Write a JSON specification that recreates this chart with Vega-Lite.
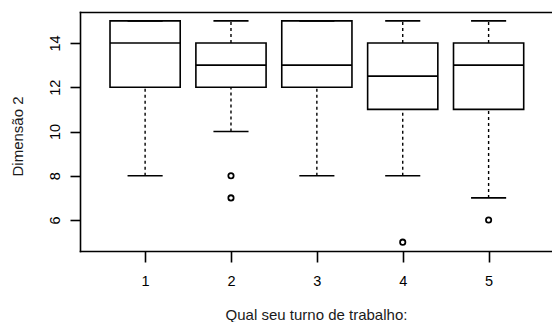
{
  "$schema": "https://vega.github.io/schema/vega-lite/v6.json",
  "width": 472,
  "height": 239,
  "autosize": {"type": "none"},
  "padding": {"left": 80, "top": 12, "right": 0, "bottom": 71},
  "background": "white",
  "config": {
    "view": {"stroke": null},
    "axis": {
      "grid": false,
      "domainColor": "#000",
      "domainWidth": 1.6,
      "domainCap": "square",
      "tickColor": "#000",
      "tickWidth": 1.6,
      "labelFont": "Liberation Sans",
      "labelFontSize": 14.5,
      "labelColor": "#000",
      "titleFont": "Liberation Sans",
      "titleFontSize": 15,
      "titleFontWeight": "normal",
      "titleColor": "#1a1a1a"
    }
  },
  "datasets": {
    "boxes": [
      {"turno": 1, "lo": 8, "q1": 12, "med": 14, "q3": 15, "hi": 15},
      {"turno": 2, "lo": 10, "q1": 12, "med": 13, "q3": 14, "hi": 15},
      {"turno": 3, "lo": 8, "q1": 12, "med": 13, "q3": 15, "hi": 15},
      {"turno": 4, "lo": 8, "q1": 11, "med": 12.5, "q3": 14, "hi": 15},
      {"turno": 5, "lo": 7, "q1": 11, "med": 13, "q3": 14, "hi": 15}
    ],
    "outliers": [
      {"turno": 2, "valor": 8},
      {"turno": 2, "valor": 7},
      {"turno": 4, "valor": 5},
      {"turno": 5, "valor": 6}
    ]
  },
  "resolve": {"axis": {"x": "independent", "y": "independent"}},
  "layer": [
    {
      "data": {"name": "boxes"},
      "mark": {"type": "bar", "width": 70.2, "fill": "white", "stroke": "#000", "strokeWidth": 1.6},
      "encoding": {
        "x": {
          "field": "turno", "type": "quantitative",
          "scale": {"domain": [0.3, 5.68], "nice": false, "zero": false},
          "axis": {
            "orient": "bottom", "values": [1, 2, 3, 4, 5], "format": "d",
            "tickSize": 11, "labelPadding": 23.5, "labelBaseline": "alphabetic",
            "labelAngle": 0, "labelFlush": false,
            "title": "Qual seu turno de trabalho:", "titleY": 68,
            "titleBaseline": "alphabetic"
          }
        },
        "y": {
          "field": "q1", "type": "quantitative",
          "scale": {"domain": [4.6, 15.4], "nice": false, "zero": false},
          "axis": {
            "orient": "left", "values": [6, 8, 10, 12, 14],
            "tickSize": 10, "labelPadding": 11, "labelAngle": 270,
            "labelAlign": "center", "labelBaseline": "alphabetic", "labelFlush": false,
            "title": "Dimensão 2", "titleAngle": 270, "titleX": -57.5, "titleY": 124,
            "titleAlign": "center", "titleBaseline": "alphabetic"
          }
        },
        "y2": {"field": "q3"}
      }
    },
    {
      "data": {"name": "boxes"},
      "mark": {"type": "tick", "orient": "horizontal", "size": 70.2, "thickness": 1.7, "color": "#000", "opacity": 1},
      "encoding": {
        "x": {
          "field": "turno", "type": "quantitative",
          "scale": {"domain": [0.3, 5.68], "nice": false, "zero": false},
          "axis": {"orient": "top", "labels": false, "ticks": false, "title": null, "domain": true}
        },
        "y": {
          "field": "med", "type": "quantitative",
          "scale": {"domain": [4.6, 15.4], "nice": false, "zero": false},
          "axis": null
        }
      }
    },
    {
      "data": {"name": "boxes"},
      "mark": {"type": "rule", "strokeDash": [3, 3], "strokeWidth": 1.4, "color": "#000"},
      "encoding": {
        "x": {"field": "turno", "type": "quantitative", "scale": {"domain": [0.3, 5.68], "nice": false, "zero": false}, "axis": null},
        "y": {"field": "q3", "type": "quantitative", "scale": {"domain": [4.6, 15.4], "nice": false, "zero": false}, "axis": null},
        "y2": {"field": "hi"}
      }
    },
    {
      "data": {"name": "boxes"},
      "mark": {"type": "rule", "strokeDash": [3, 3], "strokeWidth": 1.4, "color": "#000"},
      "encoding": {
        "x": {"field": "turno", "type": "quantitative", "scale": {"domain": [0.3, 5.68], "nice": false, "zero": false}, "axis": null},
        "y": {"field": "lo", "type": "quantitative", "scale": {"domain": [4.6, 15.4], "nice": false, "zero": false}, "axis": null},
        "y2": {"field": "q1"}
      }
    },
    {
      "data": {"name": "boxes"},
      "mark": {"type": "tick", "orient": "horizontal", "size": 35.1, "thickness": 1.6, "color": "#000", "opacity": 1},
      "encoding": {
        "x": {"field": "turno", "type": "quantitative", "scale": {"domain": [0.3, 5.68], "nice": false, "zero": false}, "axis": null},
        "y": {"field": "hi", "type": "quantitative", "scale": {"domain": [4.6, 15.4], "nice": false, "zero": false}, "axis": null}
      }
    },
    {
      "data": {"name": "boxes"},
      "mark": {"type": "tick", "orient": "horizontal", "size": 35.1, "thickness": 1.6, "color": "#000", "opacity": 1},
      "encoding": {
        "x": {"field": "turno", "type": "quantitative", "scale": {"domain": [0.3, 5.68], "nice": false, "zero": false}, "axis": null},
        "y": {"field": "lo", "type": "quantitative", "scale": {"domain": [4.6, 15.4], "nice": false, "zero": false}, "axis": null}
      }
    },
    {
      "data": {"name": "outliers"},
      "mark": {"type": "point", "shape": "circle", "filled": false, "size": 28, "stroke": "#000", "strokeWidth": 1.8, "opacity": 1},
      "encoding": {
        "x": {"field": "turno", "type": "quantitative", "scale": {"domain": [0.3, 5.68], "nice": false, "zero": false}, "axis": null},
        "y": {"field": "valor", "type": "quantitative", "scale": {"domain": [4.6, 15.4], "nice": false, "zero": false}, "axis": null}
      }
    }
  ]
}
